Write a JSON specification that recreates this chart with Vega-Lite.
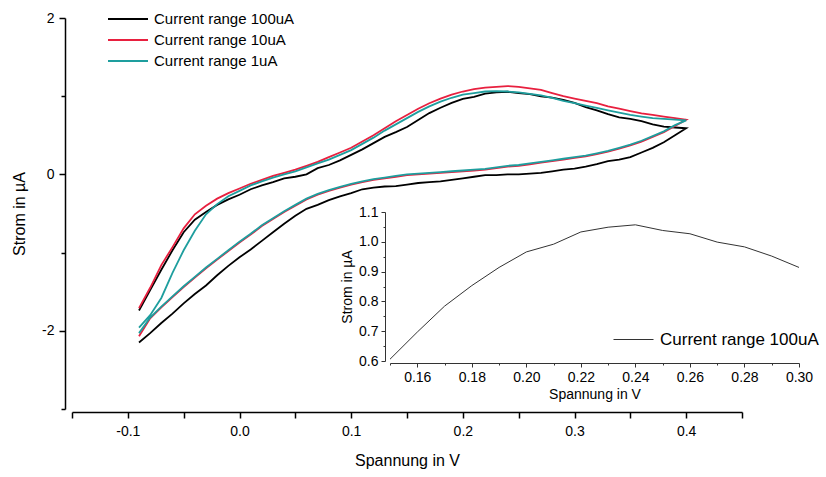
{
  "$schema": "https://vega.github.io/schema/vega-lite/v6.json",
  "width": 670,
  "height": 391,
  "autosize": "none",
  "padding": {"left": 72, "top": 18, "right": 84, "bottom": 68},
  "background": "white",
  "config": {
    "view": {"stroke": null},
    "font": "Liberation Sans",
    "axis": {"grid": false, "labelColor": "black", "titleColor": "black", "titleFontWeight": "normal", "labelFont": "Liberation Sans", "titleFont": "Liberation Sans", "labelFlush": false, "labelOverlap": false}
  },
  "datasets": {
    "cv": [
      {"s":"Current range 100uA","o":0,"V":-0.09,"I":-1.74},{"s":"Current range 100uA","o":1,"V":-0.08,"I":-1.48},{"s":"Current range 100uA","o":2,"V":-0.07,"I":-1.22},{"s":"Current range 100uA","o":3,"V":-0.06,"I":-0.97},{"s":"Current range 100uA","o":4,"V":-0.05,"I":-0.74},{"s":"Current range 100uA","o":5,"V":-0.04,"I":-0.58},{"s":"Current range 100uA","o":6,"V":-0.03,"I":-0.48},{"s":"Current range 100uA","o":7,"V":-0.02,"I":-0.39},{"s":"Current range 100uA","o":8,"V":-0.01,"I":-0.32},{"s":"Current range 100uA","o":9,"V":0.0,"I":-0.26},
      {"s":"Current range 100uA","o":10,"V":0.01,"I":-0.19},{"s":"Current range 100uA","o":11,"V":0.02,"I":-0.14},{"s":"Current range 100uA","o":12,"V":0.03,"I":-0.10},{"s":"Current range 100uA","o":13,"V":0.04,"I":-0.05},{"s":"Current range 100uA","o":14,"V":0.05,"I":-0.03},{"s":"Current range 100uA","o":15,"V":0.06,"I":0.0},{"s":"Current range 100uA","o":16,"V":0.07,"I":0.08},{"s":"Current range 100uA","o":17,"V":0.08,"I":0.12},{"s":"Current range 100uA","o":18,"V":0.09,"I":0.18},{"s":"Current range 100uA","o":19,"V":0.10,"I":0.25},
      {"s":"Current range 100uA","o":20,"V":0.11,"I":0.32},{"s":"Current range 100uA","o":21,"V":0.12,"I":0.40},{"s":"Current range 100uA","o":22,"V":0.13,"I":0.48},{"s":"Current range 100uA","o":23,"V":0.14,"I":0.54},{"s":"Current range 100uA","o":24,"V":0.15,"I":0.606},{"s":"Current range 100uA","o":25,"V":0.16,"I":0.697},{"s":"Current range 100uA","o":26,"V":0.17,"I":0.784},{"s":"Current range 100uA","o":27,"V":0.18,"I":0.853},{"s":"Current range 100uA","o":28,"V":0.19,"I":0.914},{"s":"Current range 100uA","o":29,"V":0.20,"I":0.966},
      {"s":"Current range 100uA","o":30,"V":0.21,"I":0.992},{"s":"Current range 100uA","o":31,"V":0.22,"I":1.033},{"s":"Current range 100uA","o":32,"V":0.23,"I":1.049},{"s":"Current range 100uA","o":33,"V":0.24,"I":1.057},{"s":"Current range 100uA","o":34,"V":0.25,"I":1.038},{"s":"Current range 100uA","o":35,"V":0.26,"I":1.027},{"s":"Current range 100uA","o":36,"V":0.27,"I":0.999},{"s":"Current range 100uA","o":37,"V":0.28,"I":0.983},{"s":"Current range 100uA","o":38,"V":0.29,"I":0.952},{"s":"Current range 100uA","o":39,"V":0.30,"I":0.914},
      {"s":"Current range 100uA","o":40,"V":0.31,"I":0.86},{"s":"Current range 100uA","o":41,"V":0.32,"I":0.82},{"s":"Current range 100uA","o":42,"V":0.33,"I":0.77},{"s":"Current range 100uA","o":43,"V":0.34,"I":0.73},{"s":"Current range 100uA","o":44,"V":0.35,"I":0.71},{"s":"Current range 100uA","o":45,"V":0.36,"I":0.68},{"s":"Current range 100uA","o":46,"V":0.37,"I":0.64},{"s":"Current range 100uA","o":47,"V":0.38,"I":0.61},{"s":"Current range 100uA","o":48,"V":0.39,"I":0.60},{"s":"Current range 100uA","o":49,"V":0.40,"I":0.59},
      {"s":"Current range 100uA","o":50,"V":0.39,"I":0.50},{"s":"Current range 100uA","o":51,"V":0.38,"I":0.41},{"s":"Current range 100uA","o":52,"V":0.37,"I":0.34},{"s":"Current range 100uA","o":53,"V":0.36,"I":0.28},{"s":"Current range 100uA","o":54,"V":0.35,"I":0.22},{"s":"Current range 100uA","o":55,"V":0.34,"I":0.19},{"s":"Current range 100uA","o":56,"V":0.33,"I":0.17},{"s":"Current range 100uA","o":57,"V":0.32,"I":0.13},{"s":"Current range 100uA","o":58,"V":0.31,"I":0.10},{"s":"Current range 100uA","o":59,"V":0.30,"I":0.075},
      {"s":"Current range 100uA","o":60,"V":0.29,"I":0.06},{"s":"Current range 100uA","o":61,"V":0.28,"I":0.04},{"s":"Current range 100uA","o":62,"V":0.27,"I":0.02},{"s":"Current range 100uA","o":63,"V":0.26,"I":0.01},{"s":"Current range 100uA","o":64,"V":0.25,"I":0.0},{"s":"Current range 100uA","o":65,"V":0.24,"I":0.0},{"s":"Current range 100uA","o":66,"V":0.23,"I":-0.01},{"s":"Current range 100uA","o":67,"V":0.22,"I":-0.01},{"s":"Current range 100uA","o":68,"V":0.21,"I":-0.03},{"s":"Current range 100uA","o":69,"V":0.20,"I":-0.05},
      {"s":"Current range 100uA","o":70,"V":0.19,"I":-0.07},{"s":"Current range 100uA","o":71,"V":0.18,"I":-0.09},{"s":"Current range 100uA","o":72,"V":0.17,"I":-0.10},{"s":"Current range 100uA","o":73,"V":0.16,"I":-0.11},{"s":"Current range 100uA","o":74,"V":0.15,"I":-0.13},{"s":"Current range 100uA","o":75,"V":0.14,"I":-0.15},{"s":"Current range 100uA","o":76,"V":0.13,"I":-0.155},{"s":"Current range 100uA","o":77,"V":0.12,"I":-0.17},{"s":"Current range 100uA","o":78,"V":0.11,"I":-0.19},{"s":"Current range 100uA","o":79,"V":0.10,"I":-0.24},
      {"s":"Current range 100uA","o":80,"V":0.09,"I":-0.28},{"s":"Current range 100uA","o":81,"V":0.08,"I":-0.33},{"s":"Current range 100uA","o":82,"V":0.07,"I":-0.39},{"s":"Current range 100uA","o":83,"V":0.06,"I":-0.44},{"s":"Current range 100uA","o":84,"V":0.05,"I":-0.53},{"s":"Current range 100uA","o":85,"V":0.04,"I":-0.63},{"s":"Current range 100uA","o":86,"V":0.03,"I":-0.74},{"s":"Current range 100uA","o":87,"V":0.02,"I":-0.85},{"s":"Current range 100uA","o":88,"V":0.01,"I":-0.96},{"s":"Current range 100uA","o":89,"V":0.0,"I":-1.06},
      {"s":"Current range 100uA","o":90,"V":-0.01,"I":-1.17},{"s":"Current range 100uA","o":91,"V":-0.02,"I":-1.29},{"s":"Current range 100uA","o":92,"V":-0.03,"I":-1.42},{"s":"Current range 100uA","o":93,"V":-0.04,"I":-1.53},{"s":"Current range 100uA","o":94,"V":-0.05,"I":-1.65},{"s":"Current range 100uA","o":95,"V":-0.06,"I":-1.78},{"s":"Current range 100uA","o":96,"V":-0.07,"I":-1.90},{"s":"Current range 100uA","o":97,"V":-0.08,"I":-2.03},{"s":"Current range 100uA","o":98,"V":-0.09,"I":-2.15},

      {"s":"Current range 10uA","o":0,"V":-0.09,"I":-1.71},{"s":"Current range 10uA","o":1,"V":-0.08,"I":-1.45},{"s":"Current range 10uA","o":2,"V":-0.07,"I":-1.16},{"s":"Current range 10uA","o":3,"V":-0.06,"I":-0.93},{"s":"Current range 10uA","o":4,"V":-0.05,"I":-0.69},{"s":"Current range 10uA","o":5,"V":-0.04,"I":-0.51},{"s":"Current range 10uA","o":6,"V":-0.03,"I":-0.40},{"s":"Current range 10uA","o":7,"V":-0.02,"I":-0.31},{"s":"Current range 10uA","o":8,"V":-0.01,"I":-0.24},{"s":"Current range 10uA","o":9,"V":0.0,"I":-0.18},
      {"s":"Current range 10uA","o":10,"V":0.01,"I":-0.12},{"s":"Current range 10uA","o":11,"V":0.02,"I":-0.07},{"s":"Current range 10uA","o":12,"V":0.03,"I":-0.02},{"s":"Current range 10uA","o":13,"V":0.04,"I":0.02},{"s":"Current range 10uA","o":14,"V":0.05,"I":0.06},{"s":"Current range 10uA","o":15,"V":0.06,"I":0.11},{"s":"Current range 10uA","o":16,"V":0.07,"I":0.16},{"s":"Current range 10uA","o":17,"V":0.08,"I":0.22},{"s":"Current range 10uA","o":18,"V":0.09,"I":0.28},{"s":"Current range 10uA","o":19,"V":0.10,"I":0.34},
      {"s":"Current range 10uA","o":20,"V":0.11,"I":0.42},{"s":"Current range 10uA","o":21,"V":0.12,"I":0.50},{"s":"Current range 10uA","o":22,"V":0.13,"I":0.59},{"s":"Current range 10uA","o":23,"V":0.14,"I":0.68},{"s":"Current range 10uA","o":24,"V":0.15,"I":0.76},{"s":"Current range 10uA","o":25,"V":0.16,"I":0.84},{"s":"Current range 10uA","o":26,"V":0.17,"I":0.91},{"s":"Current range 10uA","o":27,"V":0.18,"I":0.97},{"s":"Current range 10uA","o":28,"V":0.19,"I":1.02},{"s":"Current range 10uA","o":29,"V":0.20,"I":1.06},
      {"s":"Current range 10uA","o":30,"V":0.21,"I":1.09},{"s":"Current range 10uA","o":31,"V":0.22,"I":1.11},{"s":"Current range 10uA","o":32,"V":0.23,"I":1.12},{"s":"Current range 10uA","o":33,"V":0.24,"I":1.13},{"s":"Current range 10uA","o":34,"V":0.25,"I":1.12},{"s":"Current range 10uA","o":35,"V":0.26,"I":1.10},{"s":"Current range 10uA","o":36,"V":0.27,"I":1.08},{"s":"Current range 10uA","o":37,"V":0.28,"I":1.04},{"s":"Current range 10uA","o":38,"V":0.29,"I":1.00},{"s":"Current range 10uA","o":39,"V":0.30,"I":0.97},
      {"s":"Current range 10uA","o":40,"V":0.31,"I":0.94},{"s":"Current range 10uA","o":41,"V":0.32,"I":0.91},{"s":"Current range 10uA","o":42,"V":0.33,"I":0.87},{"s":"Current range 10uA","o":43,"V":0.34,"I":0.84},{"s":"Current range 10uA","o":44,"V":0.35,"I":0.81},{"s":"Current range 10uA","o":45,"V":0.36,"I":0.78},{"s":"Current range 10uA","o":46,"V":0.37,"I":0.76},{"s":"Current range 10uA","o":47,"V":0.38,"I":0.74},{"s":"Current range 10uA","o":48,"V":0.39,"I":0.72},{"s":"Current range 10uA","o":49,"V":0.40,"I":0.70},
      {"s":"Current range 10uA","o":50,"V":0.39,"I":0.62},{"s":"Current range 10uA","o":51,"V":0.38,"I":0.54},{"s":"Current range 10uA","o":52,"V":0.37,"I":0.48},{"s":"Current range 10uA","o":53,"V":0.36,"I":0.42},{"s":"Current range 10uA","o":54,"V":0.35,"I":0.37},{"s":"Current range 10uA","o":55,"V":0.34,"I":0.33},{"s":"Current range 10uA","o":56,"V":0.33,"I":0.29},{"s":"Current range 10uA","o":57,"V":0.32,"I":0.26},{"s":"Current range 10uA","o":58,"V":0.31,"I":0.23},{"s":"Current range 10uA","o":59,"V":0.30,"I":0.21},
      {"s":"Current range 10uA","o":60,"V":0.29,"I":0.19},{"s":"Current range 10uA","o":61,"V":0.28,"I":0.17},{"s":"Current range 10uA","o":62,"V":0.27,"I":0.15},{"s":"Current range 10uA","o":63,"V":0.26,"I":0.13},{"s":"Current range 10uA","o":64,"V":0.25,"I":0.11},{"s":"Current range 10uA","o":65,"V":0.24,"I":0.10},{"s":"Current range 10uA","o":66,"V":0.23,"I":0.08},{"s":"Current range 10uA","o":67,"V":0.22,"I":0.06},{"s":"Current range 10uA","o":68,"V":0.21,"I":0.05},{"s":"Current range 10uA","o":69,"V":0.20,"I":0.04},
      {"s":"Current range 10uA","o":70,"V":0.19,"I":0.03},{"s":"Current range 10uA","o":71,"V":0.18,"I":0.02},{"s":"Current range 10uA","o":72,"V":0.17,"I":0.01},{"s":"Current range 10uA","o":73,"V":0.16,"I":0.0},{"s":"Current range 10uA","o":74,"V":0.15,"I":-0.01},{"s":"Current range 10uA","o":75,"V":0.14,"I":-0.03},{"s":"Current range 10uA","o":76,"V":0.13,"I":-0.05},{"s":"Current range 10uA","o":77,"V":0.12,"I":-0.07},{"s":"Current range 10uA","o":78,"V":0.11,"I":-0.10},{"s":"Current range 10uA","o":79,"V":0.10,"I":-0.13},
      {"s":"Current range 10uA","o":80,"V":0.09,"I":-0.17},{"s":"Current range 10uA","o":81,"V":0.08,"I":-0.21},{"s":"Current range 10uA","o":82,"V":0.07,"I":-0.26},{"s":"Current range 10uA","o":83,"V":0.06,"I":-0.32},{"s":"Current range 10uA","o":84,"V":0.05,"I":-0.40},{"s":"Current range 10uA","o":85,"V":0.04,"I":-0.48},{"s":"Current range 10uA","o":86,"V":0.03,"I":-0.57},{"s":"Current range 10uA","o":87,"V":0.02,"I":-0.66},{"s":"Current range 10uA","o":88,"V":0.01,"I":-0.77},{"s":"Current range 10uA","o":89,"V":0.0,"I":-0.87},
      {"s":"Current range 10uA","o":90,"V":-0.01,"I":-0.98},{"s":"Current range 10uA","o":91,"V":-0.02,"I":-1.09},{"s":"Current range 10uA","o":92,"V":-0.03,"I":-1.20},{"s":"Current range 10uA","o":93,"V":-0.04,"I":-1.32},{"s":"Current range 10uA","o":94,"V":-0.05,"I":-1.44},{"s":"Current range 10uA","o":95,"V":-0.06,"I":-1.57},{"s":"Current range 10uA","o":96,"V":-0.07,"I":-1.70},{"s":"Current range 10uA","o":97,"V":-0.08,"I":-1.84},{"s":"Current range 10uA","o":98,"V":-0.09,"I":-2.07},

      {"s":"Current range 1uA","o":0,"V":-0.09,"I":-1.96},{"s":"Current range 1uA","o":1,"V":-0.08,"I":-1.80},{"s":"Current range 1uA","o":2,"V":-0.07,"I":-1.58},{"s":"Current range 1uA","o":3,"V":-0.06,"I":-1.26},{"s":"Current range 1uA","o":4,"V":-0.05,"I":-0.97},{"s":"Current range 1uA","o":5,"V":-0.04,"I":-0.72},{"s":"Current range 1uA","o":6,"V":-0.03,"I":-0.51},{"s":"Current range 1uA","o":7,"V":-0.02,"I":-0.38},{"s":"Current range 1uA","o":8,"V":-0.01,"I":-0.28},{"s":"Current range 1uA","o":9,"V":0.0,"I":-0.21},
      {"s":"Current range 1uA","o":10,"V":0.01,"I":-0.14},{"s":"Current range 1uA","o":11,"V":0.02,"I":-0.09},{"s":"Current range 1uA","o":12,"V":0.03,"I":-0.04},{"s":"Current range 1uA","o":13,"V":0.04,"I":0.0},{"s":"Current range 1uA","o":14,"V":0.05,"I":0.04},{"s":"Current range 1uA","o":15,"V":0.06,"I":0.09},{"s":"Current range 1uA","o":16,"V":0.07,"I":0.14},{"s":"Current range 1uA","o":17,"V":0.08,"I":0.19},{"s":"Current range 1uA","o":18,"V":0.09,"I":0.25},{"s":"Current range 1uA","o":19,"V":0.10,"I":0.31},
      {"s":"Current range 1uA","o":20,"V":0.11,"I":0.39},{"s":"Current range 1uA","o":21,"V":0.12,"I":0.47},{"s":"Current range 1uA","o":22,"V":0.13,"I":0.56},{"s":"Current range 1uA","o":23,"V":0.14,"I":0.64},{"s":"Current range 1uA","o":24,"V":0.15,"I":0.72},{"s":"Current range 1uA","o":25,"V":0.16,"I":0.80},{"s":"Current range 1uA","o":26,"V":0.17,"I":0.87},{"s":"Current range 1uA","o":27,"V":0.18,"I":0.93},{"s":"Current range 1uA","o":28,"V":0.19,"I":0.98},{"s":"Current range 1uA","o":29,"V":0.20,"I":1.02},
      {"s":"Current range 1uA","o":30,"V":0.21,"I":1.04},{"s":"Current range 1uA","o":31,"V":0.22,"I":1.06},{"s":"Current range 1uA","o":32,"V":0.23,"I":1.065},{"s":"Current range 1uA","o":33,"V":0.24,"I":1.06},{"s":"Current range 1uA","o":34,"V":0.25,"I":1.05},{"s":"Current range 1uA","o":35,"V":0.26,"I":1.03},{"s":"Current range 1uA","o":36,"V":0.27,"I":1.01},{"s":"Current range 1uA","o":37,"V":0.28,"I":0.98},{"s":"Current range 1uA","o":38,"V":0.29,"I":0.94},{"s":"Current range 1uA","o":39,"V":0.30,"I":0.91},
      {"s":"Current range 1uA","o":40,"V":0.31,"I":0.88},{"s":"Current range 1uA","o":41,"V":0.32,"I":0.85},{"s":"Current range 1uA","o":42,"V":0.33,"I":0.82},{"s":"Current range 1uA","o":43,"V":0.34,"I":0.79},{"s":"Current range 1uA","o":44,"V":0.35,"I":0.76},{"s":"Current range 1uA","o":45,"V":0.36,"I":0.74},{"s":"Current range 1uA","o":46,"V":0.37,"I":0.72},{"s":"Current range 1uA","o":47,"V":0.38,"I":0.71},{"s":"Current range 1uA","o":48,"V":0.39,"I":0.70},{"s":"Current range 1uA","o":49,"V":0.40,"I":0.69},
      {"s":"Current range 1uA","o":50,"V":0.39,"I":0.63},{"s":"Current range 1uA","o":51,"V":0.38,"I":0.55},{"s":"Current range 1uA","o":52,"V":0.37,"I":0.49},{"s":"Current range 1uA","o":53,"V":0.36,"I":0.43},{"s":"Current range 1uA","o":54,"V":0.35,"I":0.38},{"s":"Current range 1uA","o":55,"V":0.34,"I":0.34},{"s":"Current range 1uA","o":56,"V":0.33,"I":0.30},{"s":"Current range 1uA","o":57,"V":0.32,"I":0.27},{"s":"Current range 1uA","o":58,"V":0.31,"I":0.24},{"s":"Current range 1uA","o":59,"V":0.30,"I":0.22},
      {"s":"Current range 1uA","o":60,"V":0.29,"I":0.20},{"s":"Current range 1uA","o":61,"V":0.28,"I":0.18},{"s":"Current range 1uA","o":62,"V":0.27,"I":0.16},{"s":"Current range 1uA","o":63,"V":0.26,"I":0.14},{"s":"Current range 1uA","o":64,"V":0.25,"I":0.12},{"s":"Current range 1uA","o":65,"V":0.24,"I":0.11},{"s":"Current range 1uA","o":66,"V":0.23,"I":0.09},{"s":"Current range 1uA","o":67,"V":0.22,"I":0.07},{"s":"Current range 1uA","o":68,"V":0.21,"I":0.06},{"s":"Current range 1uA","o":69,"V":0.20,"I":0.05},
      {"s":"Current range 1uA","o":70,"V":0.19,"I":0.04},{"s":"Current range 1uA","o":71,"V":0.18,"I":0.03},{"s":"Current range 1uA","o":72,"V":0.17,"I":0.02},{"s":"Current range 1uA","o":73,"V":0.16,"I":0.01},{"s":"Current range 1uA","o":74,"V":0.15,"I":0.0},{"s":"Current range 1uA","o":75,"V":0.14,"I":-0.02},{"s":"Current range 1uA","o":76,"V":0.13,"I":-0.04},{"s":"Current range 1uA","o":77,"V":0.12,"I":-0.06},{"s":"Current range 1uA","o":78,"V":0.11,"I":-0.09},{"s":"Current range 1uA","o":79,"V":0.10,"I":-0.12},
      {"s":"Current range 1uA","o":80,"V":0.09,"I":-0.16},{"s":"Current range 1uA","o":81,"V":0.08,"I":-0.20},{"s":"Current range 1uA","o":82,"V":0.07,"I":-0.25},{"s":"Current range 1uA","o":83,"V":0.06,"I":-0.31},{"s":"Current range 1uA","o":84,"V":0.05,"I":-0.39},{"s":"Current range 1uA","o":85,"V":0.04,"I":-0.47},{"s":"Current range 1uA","o":86,"V":0.03,"I":-0.56},{"s":"Current range 1uA","o":87,"V":0.02,"I":-0.65},{"s":"Current range 1uA","o":88,"V":0.01,"I":-0.76},{"s":"Current range 1uA","o":89,"V":0.0,"I":-0.86},
      {"s":"Current range 1uA","o":90,"V":-0.01,"I":-0.97},{"s":"Current range 1uA","o":91,"V":-0.02,"I":-1.08},{"s":"Current range 1uA","o":92,"V":-0.03,"I":-1.19},{"s":"Current range 1uA","o":93,"V":-0.04,"I":-1.31},{"s":"Current range 1uA","o":94,"V":-0.05,"I":-1.43},{"s":"Current range 1uA","o":95,"V":-0.06,"I":-1.56},{"s":"Current range 1uA","o":96,"V":-0.07,"I":-1.69},{"s":"Current range 1uA","o":97,"V":-0.08,"I":-1.83},{"s":"Current range 1uA","o":98,"V":-0.09,"I":-2.03}
    ],
    "inset": [
      {"s":"Current range 100uA","V":0.15,"I":0.606},{"s":"Current range 100uA","V":0.16,"I":0.697},{"s":"Current range 100uA","V":0.17,"I":0.784},{"s":"Current range 100uA","V":0.18,"I":0.853},{"s":"Current range 100uA","V":0.19,"I":0.914},{"s":"Current range 100uA","V":0.20,"I":0.966},{"s":"Current range 100uA","V":0.21,"I":0.992},{"s":"Current range 100uA","V":0.22,"I":1.033},{"s":"Current range 100uA","V":0.23,"I":1.049},{"s":"Current range 100uA","V":0.24,"I":1.057},{"s":"Current range 100uA","V":0.25,"I":1.038},{"s":"Current range 100uA","V":0.26,"I":1.027},{"s":"Current range 100uA","V":0.27,"I":0.999},{"s":"Current range 100uA","V":0.28,"I":0.983},{"s":"Current range 100uA","V":0.29,"I":0.952},{"s":"Current range 100uA","V":0.30,"I":0.914}
    ]
  },
  "layer": [
    {
      "data": {"name": "cv"},
      "mark": {"type": "line", "strokeWidth": 1.8, "clip": true},
      "encoding": {
        "x": {"field": "V", "type": "quantitative",
          "scale": {"domain": [-0.15, 0.45], "nice": false, "zero": false},
          "axis": {"orient": "bottom", "title": "Spannung in V", "offset": 3,
            "values": [-0.15, -0.1, -0.05, 0, 0.05, 0.1, 0.15, 0.2, 0.25, 0.3, 0.35, 0.4, 0.45],
            "labelExpr": "abs(round(datum.value*20))%2==1 ? '' : replace(format(datum.value, '.1f'), '\u2212', '-')",
            "domainColor": "black", "domainWidth": 1.5, "tickColor": "black", "tickWidth": 1.5, "tickSize": 6,
            "labelFontSize": 14, "labelPadding": 6, "titleFontSize": 16, "titlePadding": 14}},
        "y": {"field": "I", "type": "quantitative",
          "scale": {"domain": [-3, 2], "nice": false, "zero": false},
          "axis": {"orient": "left", "title": "Strom in µA", "offset": 7,
            "values": [-3, -2, -1, 0, 1, 2],
            "labelExpr": "abs(datum.value)%2==1 ? '' : replace(format(datum.value, 'd'), '\u2212', '-')",
            "domainColor": "black", "domainWidth": 1.5, "tickColor": "black", "tickWidth": 1.5,
            "tickSize": {"condition": {"test": "abs(datum.value)%2==1", "value": 4}, "value": 6},
            "labelFontSize": 14, "labelPadding": 5, "titleFontSize": 16, "titlePadding": 14}},
        "color": {"field": "s", "type": "nominal",
          "scale": {"domain": ["Current range 100uA", "Current range 10uA", "Current range 1uA"], "range": ["#000000", "#E8203F", "#1E9E9E"]},
          "legend": {"orient": "none", "legendX": 45, "legendY": -10, "title": null, "symbolType": "M-2,0H2", "symbolSize": 400, "symbolStrokeWidth": 2, "labelFontSize": 15, "labelOffset": 15, "rowPadding": 2, "padding": 0, "labelColor": "black", "labelFont": "Liberation Sans"}},
        "order": {"field": "o", "type": "quantitative"}
      }
    },
    {
      "data": {"name": "inset"},
      "mark": {"type": "line", "strokeWidth": 1},
      "encoding": {
        "x": {"field": "V", "type": "quantitative",
          "scale": {"domain": [0.15, 0.30], "range": [318, 727], "nice": false, "zero": false},
          "axis": {"orient": "bottom", "title": "Spannung in V", "offset": -46,
            "values": [0.15, 0.16, 0.17, 0.18, 0.19, 0.2, 0.21, 0.22, 0.23, 0.24, 0.25, 0.26, 0.27, 0.28, 0.29, 0.3],
            "labelExpr": "round(datum.value*100)%2==1 ? '' : format(datum.value, '.2f')",
            "domainColor": "#333333", "domainWidth": 1, "tickColor": "#333333", "tickWidth": 1,
            "tickSize": {"condition": {"test": "round(datum.value*100)%2==1", "value": 2}, "value": 4},
            "labelFontSize": 14, "labelPadding": 3, "titleFontSize": 14, "titlePadding": 3}},
        "y": {"field": "I", "type": "quantitative",
          "scale": {"domain": [0.6, 1.1], "range": [343, 194], "nice": false, "zero": false},
          "axis": {"orient": "left", "title": "Strom in µA", "offset": -313,
            "values": [0.6, 0.65, 0.7, 0.75, 0.8, 0.85, 0.9, 0.95, 1.0, 1.05, 1.1],
            "labelExpr": "round(datum.value*20)%2==1 ? '' : format(datum.value, '.1f')",
            "domainColor": "#333333", "domainWidth": 1, "tickColor": "#333333", "tickWidth": 1,
            "tickSize": {"condition": {"test": "round(datum.value*20)%2==1", "value": 2}, "value": 4},
            "labelFontSize": 14, "labelPadding": 3, "titleFontSize": 14, "titlePadding": 4}},
        "color": {"field": "s", "type": "nominal",
          "scale": {"domain": ["Current range 100uA"], "range": ["#333333"]},
          "legend": {"orient": "none", "legendX": 551, "legendY": 311, "title": null, "symbolType": "M-2,0H2", "symbolSize": 400, "symbolStrokeWidth": 1, "labelFontSize": 17, "labelOffset": 16, "padding": 0, "labelColor": "black", "labelFont": "Liberation Sans"}}
      }
    }
  ],
  "resolve": {"scale": {"x": "independent", "y": "independent", "color": "independent"}, "axis": {"x": "independent", "y": "independent"}, "legend": {"color": "independent"}}
}
